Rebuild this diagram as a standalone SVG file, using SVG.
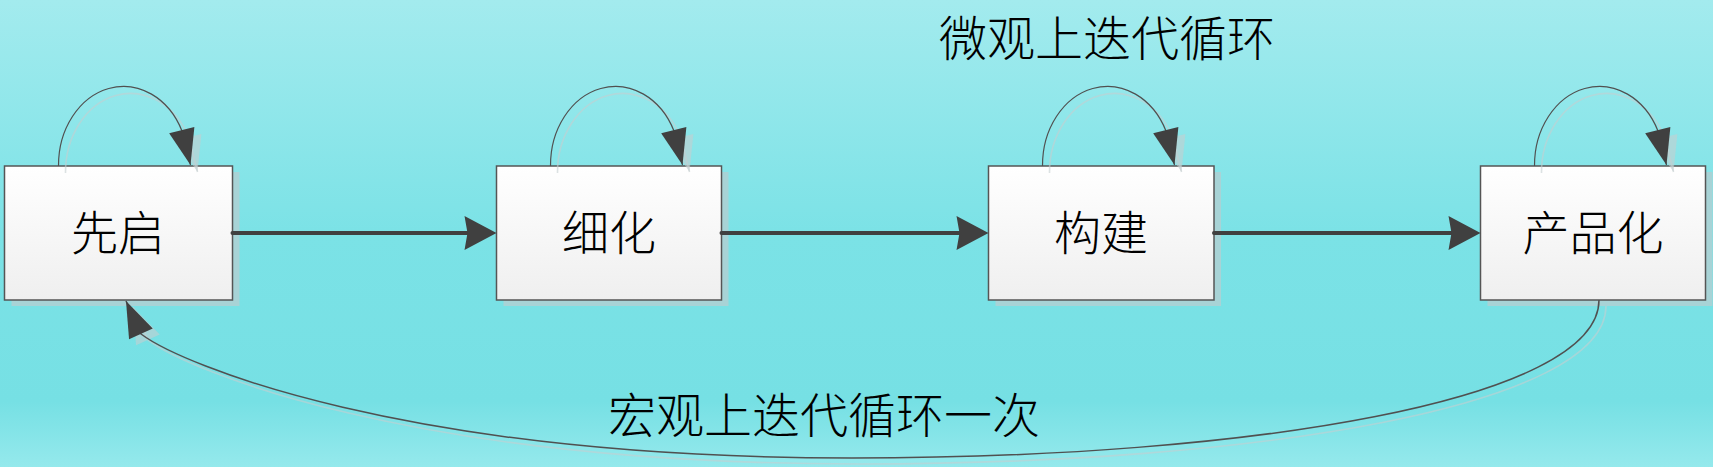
<svg xmlns="http://www.w3.org/2000/svg" width="1713" height="467" viewBox="0 0 1713 467">
<defs>
<linearGradient id="bg" x1="0" y1="0" x2="0" y2="1">
<stop offset="0" stop-color="#a3ebee"/>
<stop offset="0.5" stop-color="#7be2e6"/>
<stop offset="0.86" stop-color="#76e0e4"/>
<stop offset="1" stop-color="#95e9ec"/>
</linearGradient>
<linearGradient id="boxfill" x1="0" y1="0" x2="0" y2="1">
<stop offset="0" stop-color="#ffffff"/>
<stop offset="1" stop-color="#efefef"/>
</linearGradient>
<marker id="bigArrow" markerUnits="userSpaceOnUse" viewBox="-6 -18 36 36" markerWidth="36" markerHeight="36" refX="0" refY="0" orient="auto">
<path d="M28,0 L-4,-17 L-1,0 L-4,17 Z" fill="#404040"/>
</marker>
<marker id="smallArrow" markerUnits="userSpaceOnUse" viewBox="-38 -15 40 30" markerWidth="40" markerHeight="30" refX="0" refY="0" orient="auto">
<path d="M0,0 L-36,-13 L-36,13 Z" fill="#404040"/>
</marker>
<marker id="shadowArrow" markerUnits="userSpaceOnUse" viewBox="-38 -15 40 30" markerWidth="40" markerHeight="30" refX="0" refY="0" orient="auto">
<path d="M0,0 L-36,-13 L-36,13 Z" fill="#c4cfd0" fill-opacity="0.6"/>
</marker>
</defs>
<style>
.shadow{fill:#a8d3d6}
.box{fill:url(#boxfill);stroke:#555555;stroke-width:1.5}
.label{font-family:"Noto Sans CJK SC","Noto Sans CJK JP",sans-serif;font-weight:300;fill:#000000;text-anchor:middle}
.nodeText{font-size:47px}
.bigText{font-size:48px}
.flow{fill:none;stroke:#404040;stroke-width:4;stroke-linecap:round;marker-end:url(#bigArrow)}
.loop{fill:none;stroke:#505050;stroke-width:1.2;marker-end:url(#smallArrow)}
.loopShadow{fill:none;stroke:#c4cfd0;stroke-opacity:0.6;stroke-width:1.6;marker-end:url(#shadowArrow)}
</style>
<rect x="0" y="0" width="1713" height="467" fill="url(#bg)"/>

<g id="node-xianqi">
<rect class="shadow" x="11.5" y="172" width="228" height="134"/>
<rect class="box" x="4.5" y="166" width="228" height="134"/>
<text class="label nodeText" x="118" y="249.5">先启</text>
</g>
<g id="node-xihua">
<rect class="shadow" x="503.5" y="172" width="225" height="134"/>
<rect class="box" x="496.5" y="166" width="225" height="134"/>
<text class="label nodeText" x="609" y="249.5">细化</text>
</g>
<g id="node-goujian">
<rect class="shadow" x="995.5" y="172" width="225.5" height="134"/>
<rect class="box" x="988.5" y="166" width="225.5" height="134"/>
<text class="label nodeText" x="1101" y="249.5">构建</text>
</g>
<g id="node-chanpinhua">
<rect class="shadow" x="1487.5" y="172" width="225" height="134"/>
<rect class="box" x="1480.5" y="166" width="225" height="134"/>
<text class="label nodeText" x="1593" y="249.5">产品化</text>
</g>

<g id="connectors">
<g id="shadows" transform="translate(7,7)">
<path class="loopShadow" d="M58.5,166 A65,79 0 0 1 182,131 L190.5,165"/>
<path class="loopShadow" d="M550.5,166 A65,79 0 0 1 674,131 L682.5,165"/>
<path class="loopShadow" d="M1042.5,166 A65,79 0 0 1 1166,131 L1174.5,165"/>
<path class="loopShadow" d="M1534.5,166 A65,79 0 0 1 1658,131 L1666.5,165"/>
</g>
<path class="loopShadow" transform="translate(7,6)" d="M1599,300 C1599,400 1252,458 852,458 C402,458 181,364 141,334 L126,301"/>
<path class="loop" d="M58.5,166 A65,79 0 0 1 182,131 L190.5,165"/>
<path class="loop" d="M550.5,166 A65,79 0 0 1 674,131 L682.5,165"/>
<path class="loop" d="M1042.5,166 A65,79 0 0 1 1166,131 L1174.5,165"/>
<path class="loop" d="M1534.5,166 A65,79 0 0 1 1658,131 L1666.5,165"/>
<path class="flow" d="M232.5,233 L468.5,233"/>
<path class="flow" d="M721.5,233 L960.5,233"/>
<path class="flow" d="M1214,233 L1452.5,233"/>
<path class="loop" style="stroke-width:1.5" d="M1599,300 C1599,400 1252,458 852,458 C402,458 181,364 141,334 L126,301"/>
</g>

<g id="labels">
<text class="label bigText" x="1107" y="56">微观上迭代循环</text>
<text class="label bigText" x="824" y="432.5">宏观上迭代循环一次</text>
</g>
</svg>
